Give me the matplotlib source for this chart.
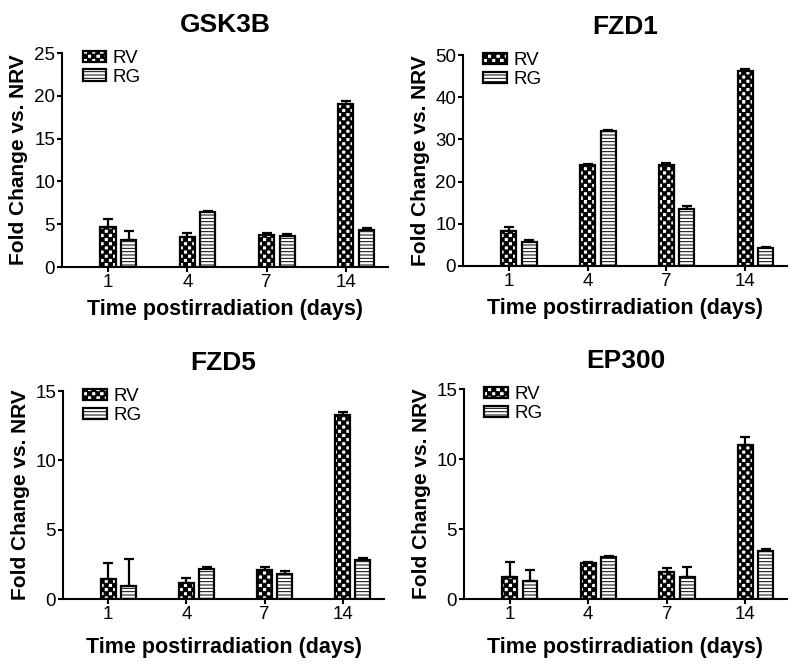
import warnings
import numpy as np
import matplotlib
matplotlib.use("Agg")
import matplotlib.pyplot as plt
from matplotlib import hatch as mhatch
from matplotlib.path import Path

warnings.simplefilter("ignore")

days = ["1", "4", "7", "14"]
series = ["RV", "RG"]

gsk3b_rv = [4.7, 3.5, 3.7, 19.05]
gsk3b_rv_err = [0.95, 0.45, 0.3, 0.4]
gsk3b_rg = [3.2, 6.45, 3.6, 4.37]
gsk3b_rg_err = [0.95, 0.12, 0.3, 0.13]

fzd1_rv = [8.2, 24.05, 24.05, 46.2]
fzd1_rv_err = [1.05, 0.15, 0.35, 0.5]
fzd1_rg = [5.7, 32.0, 13.4, 4.35]
fzd1_rg_err = [0.4, 0.2, 0.8, 0.15]

fzd5_rv = [1.44, 1.13, 2.09, 13.25]
fzd5_rv_err = [1.13, 0.36, 0.24, 0.24]
fzd5_rg = [0.94, 2.14, 1.78, 2.81]
fzd5_rg_err = [1.92, 0.14, 0.26, 0.12]

ep300_rv = [1.55, 2.55, 1.93, 11.0]
ep300_rv_err = [1.12, 0.07, 0.31, 0.55]
ep300_rg = [1.31, 3.0, 1.6, 3.45]
ep300_rg_err = [0.76, 0.05, 0.71, 0.1]


# checkerboard hatch ('c'), not built into matplotlib
class CheckerHatch(mhatch.HatchPatternBase):
    def __init__(self, hatch, density):
        self.n = hatch.count('c') * density
        if self.n % 2:
            self.n += 1
        self.num_vertices = (self.n * self.n // 2) * 5

    def set_vertices_and_codes(self, vertices, codes):
        s = 1.0 / self.n
        k = 0
        for i in range(self.n):
            for j in range(self.n):
                if (i + j) % 2 == 0:
                    x, y = i * s, j * s
                    vertices[k:k + 5] = [[x, y], [x + s, y], [x + s, y + s], [x, y + s], [x, y]]
                    codes[k:k + 5] = [Path.MOVETO, Path.LINETO, Path.LINETO, Path.LINETO, Path.CLOSEPOLY]
                    k += 5


mhatch._hatch_types.append(CheckerHatch)

plt.rcParams['font.family'] = ['Liberation Sans', 'DejaVu Sans']
plt.rcParams['hatch.linewidth'] = 0.7
plt.rcParams['hatch.color'] = 'black'

W, H = 800, 669
fig = plt.figure(figsize=(W / 100, H / 100), dpi=100)


def add_ax(left, top, right, bottom):
    return fig.add_axes([left / W, (H - bottom) / H, (right - left) / W, (bottom - top) / H])


panels = [
    ("GSK3B", gsk3b_rv, gsk3b_rv_err, gsk3b_rg, gsk3b_rg_err, 25, 5, (62, 53, 388, 267), 6),
    ("FZD1", fzd1_rv, fzd1_rv_err, fzd1_rg, fzd1_rg_err, 50, 10, (463, 55, 787, 266), 6),
    ("FZD5", fzd5_rv, fzd5_rv_err, fzd5_rg, fzd5_rg_err, 15, 5, (63, 391, 384, 599), 10),
    ("EP300", ep300_rv, ep300_rv_err, ep300_rg, ep300_rg_err, 15, 5, (464, 389, 787, 599), 10),
]

x = np.arange(len(days))
bw = 0.19
off = 0.26

for title, rv, rv_err, rg, rg_err, ymax, ystep, box, xpad in panels:
    ax = add_ax(*box)
    ax.bar(x, rv, bw, color='white', edgecolor='black', linewidth=1.6,
           hatch='cccc', label=series[0], zorder=3)
    ax.bar(x + off, rg, bw, color='white', edgecolor='black', linewidth=1.6,
           hatch='-----', label=series[1], zorder=3)
    ax.errorbar(x, rv, yerr=[np.zeros(4), rv_err], fmt='none', ecolor='black',
                elinewidth=1.6, capsize=3.3, capthick=1.6, zorder=2)
    ax.errorbar(x + off, rg, yerr=[np.zeros(4), rg_err], fmt='none', ecolor='black',
                elinewidth=1.6, capsize=3.3, capthick=1.6, zorder=2)

    ax.set_xlim(-0.58, 3.53)
    ax.set_ylim(0, ymax)
    ax.set_yticks(np.arange(0, ymax + 0.1, ystep))
    ax.set_xticks(x)
    ax.set_xticklabels(days)
    for s in ['top', 'right']:
        ax.spines[s].set_visible(False)
    for s in ['left', 'bottom']:
        ax.spines[s].set_linewidth(1.5)
    ax.tick_params(axis='both', direction='out', length=3.5, width=1.5, labelsize=13.5, pad=1.5)
    ax.set_title(title, fontsize=19, fontweight='bold', pad=15)
    ax.set_xlabel("Time postirradiation (days)", fontsize=15.5, fontweight='bold', labelpad=xpad)
    ax.set_ylabel("Fold Change vs. NRV", fontsize=15, fontweight='bold', labelpad=4)
    ax.legend(loc='upper left', bbox_to_anchor=(0.04, 1.05), frameon=False, fontsize=13.5,
              handlelength=1.25, handleheight=0.55, handletextpad=0.35, labelspacing=0.1,
              borderaxespad=0)

fig.savefig("out.png", dpi=100)
